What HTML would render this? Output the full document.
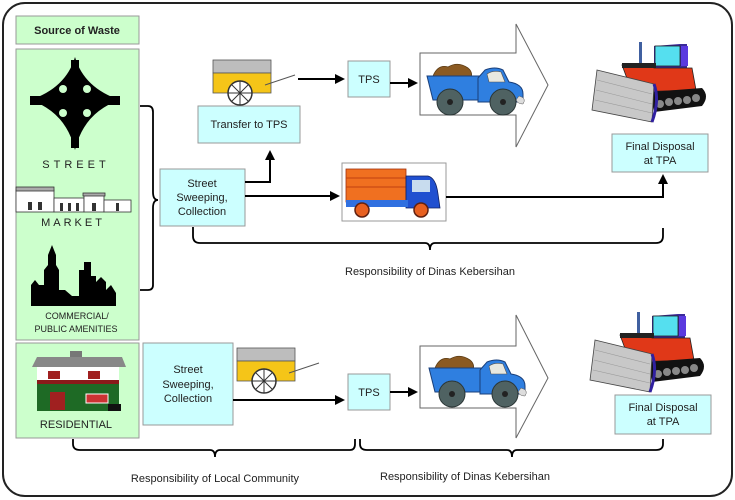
<!DOCTYPE html>
<html><head><meta charset="utf-8"><style>
html,body{margin:0;padding:0;background:#fff;}
svg{display:block;}
text{font-family:"Liberation Sans",Arial,sans-serif;fill:#222;}
</style></head><body>
<svg width="735" height="500" viewBox="0 0 735 500" xmlns="http://www.w3.org/2000/svg">
<defs>
<marker id="ah" markerWidth="10" markerHeight="10" refX="8" refY="5" orient="auto" markerUnits="userSpaceOnUse">
<path d="M0,0 L10,5 L0,10 Z" fill="#000"/></marker>
<g id="truck">
<path d="M10,18 Q15,6 25,9 Q35,3 45,10 Q50,14 48,20 Z" fill="#8b5a22" stroke="#5a3a12" stroke-width="0.8"/>
<path d="M4,18 L58,18 L56,42 L10,42 Z" fill="#2f7fe0" stroke="#1a3f7a" stroke-width="1"/>
<path d="M55,20 L62,12 Q72,8 80,12 L86,24 Q100,26 100,36 L100,44 L55,44 Z" fill="#2f7fe0" stroke="#1a3f7a" stroke-width="1"/>
<path d="M64,16 Q70,12 78,14 L82,24 L66,24 Z" fill="#e8e8e0" stroke="#555" stroke-width="0.6"/>
<path d="M96,38 Q104,40 100,46 Q95,46 93,42 Z" fill="#ddd" stroke="#555" stroke-width="0.5"/>
<circle cx="27" cy="44" r="13" fill="#4f6262" stroke="#2a3535"/>
<circle cx="27" cy="44" r="3" fill="#222"/>
<circle cx="80" cy="44" r="13" fill="#4f6262" stroke="#2a3535"/>
<circle cx="80" cy="44" r="3" fill="#222"/>
</g>
<g id="dozer">
<rect x="47" y="2" width="3" height="22" fill="#4060a0"/>
<path d="M62,6 L88,4 L95,4 L95,28 L62,28 Z" fill="#3a2a9a"/>
<rect x="63" y="6" width="25" height="20" fill="#55dfef" stroke="#222" stroke-width="0.8"/>
<rect x="89" y="6" width="7" height="20" fill="#5a3adf"/>
<path d="M30,25 L62,24 L62,28 L100,28 L104,50 L40,52 Z" fill="#e03818" stroke="#222" stroke-width="0.8"/>
<rect x="30" y="23" width="34" height="5" fill="#222"/>
<path d="M58,52 L110,48 Q118,56 110,66 L62,72 Z" fill="#111"/>
<g fill="#888"><circle cx="68" cy="64" r="4"/><circle cx="77" cy="62" r="4"/><circle cx="86" cy="61" r="4"/><circle cx="95" cy="60" r="4"/><circle cx="104" cy="58" r="4"/></g>
<path d="M5,30 L62,44 L60,82 L0,70 Z" fill="#c8c8c8" stroke="#444" stroke-width="0.8"/>
<g stroke="#999" stroke-width="0.6"><line x1="5" y1="40" x2="60" y2="54"/><line x1="4" y1="50" x2="60" y2="64"/><line x1="3" y1="60" x2="60" y2="73"/></g>
<path d="M62,44 Q68,60 60,82" fill="none" stroke="#3020a0" stroke-width="3"/>
</g>
<g id="cart">
<rect x="0" y="0" width="58" height="13" fill="#bdbdbd" stroke="#555" stroke-width="0.8"/>
<rect x="0" y="13" width="58" height="20" fill="#f5c518" stroke="#555" stroke-width="0.8"/>
<line x1="52" y1="25" x2="82" y2="15" stroke="#555" stroke-width="1"/>
<circle cx="27" cy="33" r="12" fill="#fff" stroke="#333" stroke-width="1.5"/>
<g stroke="#333" stroke-width="1"><line x1="15" y1="33" x2="39" y2="33"/><line x1="27" y1="21" x2="27" y2="45"/><line x1="19" y1="25" x2="35" y2="41"/><line x1="35" y1="25" x2="19" y2="41"/></g>
</g>
</defs>

<rect x="3" y="3" width="729" height="493" rx="22" fill="#fff" stroke="#222" stroke-width="2"/>

<rect x="16" y="16" width="123" height="28" fill="#ccffcc" stroke="#999"/>
<text x="77" y="34" font-size="11" font-weight="bold" text-anchor="middle">Source of Waste</text>
<rect x="16" y="49" width="123" height="291" fill="#ccffcc" stroke="#999"/>
<rect x="16" y="343" width="123" height="95" fill="#ccffcc" stroke="#999"/>

<path d="M75,57 Q84,88 120,100 Q84,112 75,150 Q66,112 30,100 Q66,88 75,57 Z" fill="#000"/>
<rect x="71" y="60" width="8" height="88" fill="#000"/>
<rect x="30" y="96" width="90" height="9" fill="#000"/>
<g fill="#ccffcc"><circle cx="63" cy="89" r="4"/><circle cx="87" cy="89" r="4"/><circle cx="63" cy="113" r="4"/><circle cx="87" cy="113" r="4"/></g>
<text x="76" y="168" font-size="11" text-anchor="middle" letter-spacing="4">STREET</text>

<g stroke="#333" fill="#fff" stroke-width="0.8">
<rect x="16" y="190" width="38" height="22"/><rect x="16" y="187" width="38" height="4" fill="#aaa"/>
<rect x="54" y="198" width="30" height="14"/>
<rect x="84" y="195" width="20" height="17"/><rect x="83" y="193" width="22" height="3" fill="#aaa"/>
<rect x="104" y="200" width="27" height="12"/>
</g>
<g fill="#333"><rect x="28" y="202" width="4" height="8"/><rect x="38" y="202" width="4" height="8"/><rect x="60" y="203" width="3" height="8"/><rect x="68" y="203" width="3" height="8"/><rect x="76" y="203" width="3" height="8"/><rect x="92" y="203" width="4" height="8"/><rect x="116" y="203" width="3" height="8"/></g>
<text x="73" y="226" font-size="11" text-anchor="middle" letter-spacing="3">MARKET</text>

<path d="M31,306 L31,285 L35,280 L39,285 L44,285 L44,270 L48,265 L48,255 L52,245 L56,255 L56,265 L59,270 L59,290 L65,290 L72,296 L79,296 L79,270 L84,270 L84,262 L91,262 L91,276 L96,276 L96,282 L101,277 L106,282 L106,290 L111,285 L116,293 L116,306 Z" fill="#000"/>
<text x="77" y="319" font-size="9" text-anchor="middle">COMMERCIAL/</text>
<text x="76" y="332" font-size="9" text-anchor="middle">PUBLIC AMENITIES</text>

<rect x="70" y="351" width="12" height="6" fill="#777"/>
<path d="M32,367 L37,357 L122,357 L126,367 Z" fill="#888"/>
<rect x="37" y="367" width="82" height="14" fill="#fff"/>
<rect x="37" y="381" width="82" height="30" fill="#1e6a25"/>
<rect x="37" y="380" width="82" height="4" fill="#8a1a1a"/>
<rect x="48" y="371" width="12" height="8" fill="#a02020"/><rect x="88" y="371" width="12" height="8" fill="#a02020"/>
<rect x="50" y="392" width="15" height="18" fill="#a02020"/>
<rect x="86" y="394" width="22" height="9" fill="#c33" stroke="#fff" stroke-width="1"/>
<rect x="108" y="404" width="13" height="7" fill="#111"/>
<text x="76" y="428" font-size="11" text-anchor="middle">RESIDENTIAL</text>

<path d="M140,106 L148,106 Q153,106 153,112 L153,192 Q153,200 158,200 Q153,200 153,208 L153,285 Q153,290 148,290 L140,290" fill="none" stroke="#000" stroke-width="1.8"/>

<rect x="160" y="169" width="85" height="57" fill="#ccffff" stroke="#999"/>
<text x="202" y="187" font-size="11" text-anchor="middle">Street</text>
<text x="202" y="201" font-size="11" text-anchor="middle">Sweeping,</text>
<text x="202" y="215" font-size="11" text-anchor="middle">Collection</text>

<rect x="198" y="106" width="102" height="37" fill="#ccffff" stroke="#999"/>
<text x="249" y="128" font-size="11" text-anchor="middle">Transfer to TPS</text>
<use href="#cart" x="213" y="60"/>
<path d="M245,182 L270,182 L270,152" fill="none" stroke="#000" stroke-width="2" marker-end="url(#ah)"/>
<line x1="298" y1="79" x2="343" y2="79" stroke="#000" stroke-width="2" marker-end="url(#ah)"/>
<rect x="348" y="61" width="42" height="36" fill="#ccffff" stroke="#999"/>
<text x="369" y="83" font-size="11" text-anchor="middle">TPS</text>
<line x1="390" y1="83" x2="416" y2="83" stroke="#000" stroke-width="2" marker-end="url(#ah)"/>
<path d="M420,53 L516,53 L516,24 L548,85 L516,147 L516,115 L420,115 Z" fill="#fff" stroke="#666" stroke-width="1"/>
<use href="#truck" x="423" y="58"/>

<use href="#dozer" x="592" y="40"/>
<rect x="612" y="134" width="96" height="38" fill="#ccffff" stroke="#999"/>
<text x="660" y="150" font-size="11" text-anchor="middle">Final Disposal</text>
<text x="660" y="164" font-size="11" text-anchor="middle">at TPA</text>

<line x1="245" y1="196" x2="338" y2="196" stroke="#000" stroke-width="2" marker-end="url(#ah)"/>
<rect x="342" y="163" width="104" height="58" fill="#fff" stroke="#999"/>
<rect x="346" y="169" width="60" height="33" fill="#f07020" stroke="#a03010" stroke-width="0.8"/>
<g stroke="#c04010" stroke-width="1"><line x1="346" y1="178" x2="406" y2="178"/><line x1="346" y1="187" x2="406" y2="187"/></g>
<path d="M406,176 L428,176 Q436,178 438,194 L440,208 L406,208 Z" fill="#2050d0" stroke="#102060" stroke-width="0.8"/>
<rect x="412" y="180" width="18" height="12" fill="#c8dcee"/>
<rect x="346" y="200" width="62" height="7" fill="#3070e0"/>
<circle cx="362" cy="210" r="7" fill="#e86020" stroke="#602010" stroke-width="1.5"/>
<circle cx="421" cy="210" r="7" fill="#e86020" stroke="#602010" stroke-width="1.5"/>
<path d="M446,197 L663,197 L663,176" fill="none" stroke="#000" stroke-width="2" marker-end="url(#ah)"/>

<path d="M193,227 L193,236 Q193,243 200,243 L425,243 Q430,243 430,250 Q430,243 435,243 L656,243 Q663,243 663,236 L663,228" fill="none" stroke="#000" stroke-width="1.8"/>
<text x="430" y="275" font-size="11" text-anchor="middle">Responsibility of Dinas Kebersihan</text>

<rect x="143" y="343" width="90" height="82" fill="#ccffff" stroke="#999"/>
<text x="188" y="373" font-size="11" text-anchor="middle">Street</text>
<text x="188" y="388" font-size="11" text-anchor="middle">Sweeping,</text>
<text x="188" y="402" font-size="11" text-anchor="middle">Collection</text>
<use href="#cart" x="237" y="348"/>
<line x1="233" y1="400" x2="343" y2="400" stroke="#000" stroke-width="2" marker-end="url(#ah)"/>
<rect x="348" y="374" width="42" height="36" fill="#ccffff" stroke="#999"/>
<text x="369" y="396" font-size="11" text-anchor="middle">TPS</text>
<line x1="390" y1="392" x2="416" y2="392" stroke="#000" stroke-width="2" marker-end="url(#ah)"/>
<path d="M420,346 L516,346 L516,315 L548,378 L516,438 L516,408 L420,408 Z" fill="#fff" stroke="#666" stroke-width="1"/>
<use href="#truck" x="425" y="350"/>
<use href="#dozer" x="590" y="310"/>
<rect x="615" y="395" width="96" height="39" fill="#ccffff" stroke="#999"/>
<text x="663" y="411" font-size="11" text-anchor="middle">Final Disposal</text>
<text x="663" y="425" font-size="11" text-anchor="middle">at TPA</text>

<path d="M73,439 L73,444 Q73,450 80,450 L210,450 Q215,450 215,457 Q215,450 220,450 L350,450 Q355,450 355,444 L355,439" fill="none" stroke="#000" stroke-width="1.8"/>
<text x="215" y="482" font-size="11" text-anchor="middle">Responsibility of Local Community</text>
<path d="M360,439 L360,444 Q360,450 367,450 L507,450 Q512,450 512,457 Q512,450 517,450 L656,450 Q663,450 663,444 L663,439" fill="none" stroke="#000" stroke-width="1.8"/>
<text x="465" y="480" font-size="11" text-anchor="middle">Responsibility of Dinas Kebersihan</text>
</svg>
</body></html>
